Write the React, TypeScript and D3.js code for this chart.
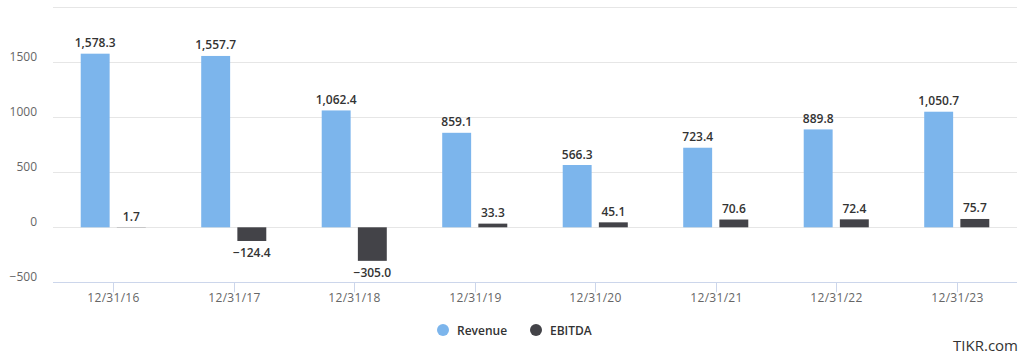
import React from "react";
import * as d3 from "d3";

const categories = ["12/31/16", "12/31/17", "12/31/18", "12/31/19", "12/31/20", "12/31/21", "12/31/22", "12/31/23"];
const revenue = [1578.3, 1557.7, 1062.4, 859.1, 566.3, 723.4, 889.8, 1050.7];
const ebitda = [1.7, -124.4, -305.0, 33.3, 45.1, 70.6, 72.4, 75.7];
const yTicks = [-500, 0, 500, 1000, 1500, 2000];
const seriesNames = ["Revenue", "EBITDA"];
const seriesColors = ["#7cb5ec", "#434348"];

const W = 1030;
const H = 363;
const FONT = "'Open Sans', sans-serif";

export default function App() {
  const left = 53, right = 1017, top = 7.3, bottom = 282.3;
  const x0 = d3.scaleBand<string>().domain(categories).range([left, right]);
  const bw = x0.bandwidth();
  const x1 = d3.scaleBand<string>().domain(seriesNames).range([bw * 0.2, bw * 0.8]).paddingInner(0.2).paddingOuter(0.1);
  const y = d3.scaleLinear().domain([-500, 2000]).range([bottom, top]);
  const fmt = d3.format(",.1f");
  const series = [revenue, ebitda];

  return (
    <svg width={W} height={H} style={{ position: "absolute", left: 0, top: 0, background: "#fff" }} fontFamily={FONT}>
      {yTicks.map((t) => (
        <g key={t}>
          {t !== -500 && (
            <line x1={left} x2={right} y1={Math.round(y(t)) + 0.5} y2={Math.round(y(t)) + 0.5} stroke="#e6e6e6" />
          )}
          {t !== 2000 && (
            <text x={37} y={y(t) - 1.5} textAnchor="end" fontSize={12} fill="#666">
              {d3.format("")(t)}
            </text>
          )}
        </g>
      ))}
      {series.map((vals, si) =>
        vals.map((v, i) => {
          const xs = (x0(categories[i]) as number) + (x1(seriesNames[si]) as number);
          const y0 = y(0);
          const yv = y(v);
          return (
            <g key={`${si}-${i}`}>
              <rect x={xs} width={x1.bandwidth()} y={Math.min(y0, yv)} height={Math.abs(yv - y0)} fill={seriesColors[si]} />
              <text
                x={xs + x1.bandwidth() / 2}
                y={v >= 0 ? yv - 6.5 : yv + 16.5}
                textAnchor="middle"
                fontSize={12}
                fontWeight={600}
                fill="#333"
              >
                {fmt(v)}
              </text>
            </g>
          );
        })
      )}
      <line x1={left} x2={right} y1={Math.round(bottom) + 0.5} y2={Math.round(bottom) + 0.5} stroke="#ccd6eb" />
      {categories.map((c) => {
        const cx = Math.round((x0(c) as number) + bw / 2) + 0.5;
        return (
          <g key={c}>
            <line x1={cx} x2={cx} y1={bottom} y2={bottom + 10} stroke="#ccd6eb" />
            <text x={cx} y={302} textAnchor="middle" fontSize={12} letterSpacing={0.3} fill="#666">
              {c}
            </text>
          </g>
        );
      })}
      {seriesNames.map((n, i) => {
        const lx = [443, 536][i];
        return (
          <g key={n}>
            <circle cx={lx} cy={330} r={6} fill={seriesColors[i]} />
            <text x={lx + 14} y={334.5} fontSize={12} fontWeight={600} fill="#333">
              {n}
            </text>
          </g>
        );
      })}
      <text x={1018} y={351} textAnchor="end" fontSize={15} fill="#333">
        TIKR.com
      </text>
    </svg>
  );
}
